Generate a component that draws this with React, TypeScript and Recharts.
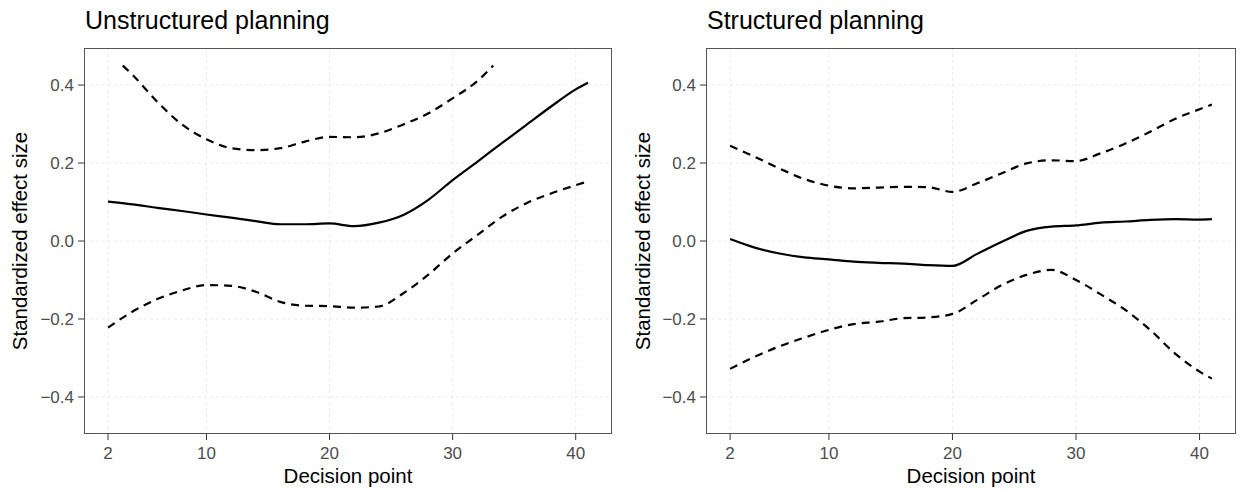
import { CartesianGrid, Label, Line, LineChart, XAxis, YAxis } from "recharts";

const decisionPoints = [2, 4, 6, 8, 10, 12, 14, 16, 18, 20, 22, 24, 26, 28, 30, 32, 34, 36, 38, 40, 41];
const xTicks = [2, 10, 20, 30, 40];
const yTicks = [-0.4, -0.2, 0, 0.2, 0.4];

const unstructuredEstimate = [0.101, 0.094, 0.085, 0.077, 0.068, 0.06, 0.051, 0.043, 0.043, 0.045, 0.038, 0.047, 0.067, 0.105, 0.156, 0.203, 0.251, 0.298, 0.345, 0.389, 0.406];
const unstructuredLower = [-0.222, -0.181, -0.149, -0.127, -0.113, -0.115, -0.13, -0.156, -0.166, -0.167, -0.171, -0.168, -0.134, -0.087, -0.032, 0.015, 0.062, 0.097, 0.122, 0.143, 0.153];
// upper band runs past the 0.45 limit at both ends, so it only exists in between
const unstructuredUpperPoints = [3.2, 4, 6, 8, 10, 12, 14, 16, 18, 20, 22, 24, 26, 28, 30, 32, 33.3];
const unstructuredUpper = [0.45, 0.426, 0.357, 0.299, 0.261, 0.238, 0.233, 0.238, 0.255, 0.267, 0.266, 0.276, 0.299, 0.327, 0.366, 0.41, 0.45];

const structuredEstimate = [0.005, -0.017, -0.032, -0.042, -0.047, -0.053, -0.056, -0.058, -0.062, -0.064, -0.033, -0.002, 0.026, 0.037, 0.04, 0.047, 0.05, 0.054, 0.056, 0.055, 0.056];
const structuredLower = [-0.328, -0.297, -0.27, -0.248, -0.228, -0.213, -0.207, -0.198, -0.196, -0.187, -0.151, -0.113, -0.087, -0.074, -0.1, -0.137, -0.177, -0.228, -0.288, -0.335, -0.353];
const structuredUpper = [0.244, 0.216, 0.186, 0.159, 0.142, 0.135, 0.137, 0.139, 0.138, 0.126, 0.148, 0.174, 0.199, 0.207, 0.205, 0.225, 0.25, 0.28, 0.313, 0.338, 0.35];

type Pt = { x: number; y: number };
const toPoints = (xs: number[], ys: number[]): Pt[] => xs.map((x, i) => ({ x, y: ys[i] }));

const FONT = '"Liberation Sans", Arial, Helvetica, sans-serif';
const H = 493;

const fmtY = (v: number) => v.toFixed(1).replace("-", "\u2212");

function Panel({
  title,
  left,
  width,
  axisWidth,
  rightGap,
  labelOffset,
  estimate,
  lower,
  upper,
}: {
  title: string;
  left: number;
  width: number;
  axisWidth: number;
  rightGap: number;
  labelOffset: number;
  estimate: Pt[];
  lower: Pt[];
  upper: Pt[];
}) {
  const plotW = width - axisWidth - rightGap;
  return (
    <div style={{ position: "absolute", left, top: 0, width, height: H }}>
      <div
        style={{
          position: "absolute",
          left: axisWidth + 1,
          top: 8,
          fontSize: 25,
          lineHeight: "25px",
          color: "#000",
          whiteSpace: "nowrap",
        }}
      >
        {title}
      </div>
      <LineChart width={width} height={H} margin={{ top: 48, right: rightGap, bottom: 0, left: 0 }}>
        <CartesianGrid stroke="#ebebeb" strokeDasharray="3 3" horizontalValues={yTicks} verticalValues={xTicks} />
        <XAxis
          dataKey="x"
          type="number"
          domain={[0.05, 42.95]}
          allowDataOverflow
          ticks={xTicks}
          height={59}
          axisLine={false}
          tickLine={{ stroke: "#333" }}
          tickSize={6}
          tickMargin={7}
          tick={{ fontSize: 17, fill: "#4d4d4d" }}
          interval={0}
        >
          <Label value="Decision point" position="insideBottom" offset={10} style={{ fontSize: 20.5, fill: "#000" }} />
        </XAxis>
        <YAxis
          type="number"
          domain={[-0.495, 0.495]}
          allowDataOverflow
          ticks={yTicks}
          width={axisWidth}
          axisLine={false}
          tickLine={{ stroke: "#333" }}
          tickSize={6}
          tickMargin={4}
          tick={{ fontSize: 17, fill: "#4d4d4d" }}
          tickFormatter={fmtY}
          interval={0}
        >
          <Label
            value="Standardized effect size"
            angle={-90}
            position="insideLeft"
            offset={labelOffset}
            style={{ fontSize: 20.5, fill: "#000", textAnchor: "middle" }}
          />
        </YAxis>
        <Line data={upper} dataKey="y" type="monotone" stroke="#000" strokeWidth={2.2} strokeDasharray="8 6" dot={false} isAnimationActive={false} />
        <Line data={lower} dataKey="y" type="monotone" stroke="#000" strokeWidth={2.2} strokeDasharray="8 6" dot={false} isAnimationActive={false} />
        <Line data={estimate} dataKey="y" type="monotone" stroke="#000" strokeWidth={2.2} dot={false} isAnimationActive={false} />
      </LineChart>
      <div
        style={{
          position: "absolute",
          left: axisWidth,
          top: 48,
          width: plotW,
          height: 386,
          boxSizing: "border-box",
          border: "1px solid #555",
          pointerEvents: "none",
        }}
      />
    </div>
  );
}

export default function App() {
  return (
    <div style={{ position: "absolute", left: 0, top: 0, width: 1243, height: H, background: "#fff", fontFamily: FONT }}>
      <Panel
        title="Unstructured planning"
        left={0}
        width={620}
        axisWidth={84}
        rightGap={8}
        labelOffset={20}
        estimate={toPoints(decisionPoints, unstructuredEstimate)}
        lower={toPoints(decisionPoints, unstructuredLower)}
        upper={toPoints(unstructuredUpperPoints, unstructuredUpper)}
      />
      <Panel
        title="Structured planning"
        left={620}
        width={623}
        axisWidth={86}
        rightGap={7}
        labelOffset={23}
        estimate={toPoints(decisionPoints, structuredEstimate)}
        lower={toPoints(decisionPoints, structuredLower)}
        upper={toPoints(decisionPoints, structuredUpper)}
      />
    </div>
  );
}
